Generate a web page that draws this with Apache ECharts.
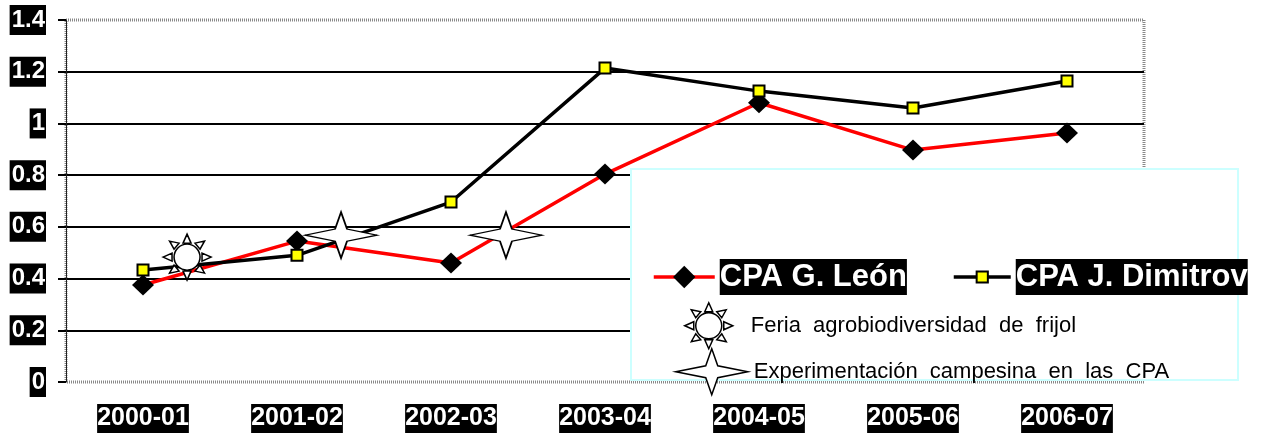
<!DOCTYPE html>
<html>
<head>
<meta charset="utf-8">
<style>html,body{margin:0;padding:0;background:#fff}#main{width:1271px;height:435px}</style>
<script src="https://cdn.jsdelivr.net/npm/echarts@6/dist/echarts.min.js"></script>
</head>
<body>
<div id="main"></div>
<script>
var categories = ['2000-01', '2001-02', '2002-03', '2003-04', '2004-05', '2005-06', '2006-07']
var leon = [0.375, 0.545, 0.46, 0.804, 1.08, 0.897, 0.963]
var dimitrov = [0.433, 0.49, 0.696, 1.214, 1.125, 1.06, 1.164]
// these two sit between the categories, so they go on a hidden 0-7 axis
var feria = [[0.786, 0.483]]
var experimentacion = [[1.786, 0.568], [2.857, 0.568]]

var nameLeon = 'CPA G. León'
var nameDimitrov = 'CPA J. Dimitrov'
var nameFeria = 'Feria agrobiodiversidad de frijol'
var nameExp = 'Experimentación campesina en las CPA'

var sunPath = 'path://M37 23A13 13 0 1 1 11 23A13 13 0 1 1 37 23Z' +
  'M24 0L28 9L20 9Z M24 46L20 37L28 37Z M0 23L9 19L9 27Z M48 23L39 27L39 19Z' +
  'M41.5 7L37 15L32 9Z M6.5 7L16 9L11 15Z M41.5 39L32 37L37 31Z M6.5 39L11 31L16 37Z'
var starPath = 'path://M36 0L42 17L72 23L42 29L36 46L30 29L0 23L30 17Z'

var font = '"Liberation Sans", Arial, sans-serif'
var outline = { color: '#fff', borderColor: '#000', borderWidth: 1.5, opacity: 1 }

function lineLegend(name, left, w, height) {
  return {
    data: [name], left: left, top: 259, padding: 0, itemWidth: w, itemHeight: height, selectedMode: false, z: 6,
    lineStyle: { width: 3.5 },
    textStyle: { color: '#fff', backgroundColor: '#000', fontFamily: font, fontWeight: 'bold', fontSize: 31, lineHeight: 36, padding: 0 }
  }
}
function noteLegend(name, icon, left, top, w, pad) {
  return {
    data: [{ name: name, icon: icon, itemStyle: outline }], left: left, top: top, padding: 0, itemWidth: w, itemHeight: 46, selectedMode: false, z: 6,
    // the words are set wide apart in the picture
    formatter: function (n) { return n.split(' ').join('  ') },
    textStyle: { color: '#000', fontFamily: font, fontSize: 22, padding: [0, 0, 0, pad] }
  }
}

var myChart = echarts.init(document.getElementById('main'))
myChart.setOption({
  animation: false,
  grid: { left: 66, right: 127, top: 20, bottom: 53, show: true, borderColor: '#888', borderWidth: 3, borderType: [1, 1] },
  legend: [
    lineLegend(nameLeon, 652, 61, 28),
    lineLegend(nameDimitrov, 952, 57, 14),
    noteLegend(nameFeria, sunPath, 684, 302, 48, 13),
    noteLegend(nameExp, starPath, 675, 348, 72, 1)
  ],
  graphic: [{
    type: 'rect', z: 5,
    shape: { x: 631, y: 169, width: 607, height: 211 },
    style: { fill: '#fff', stroke: '#ccffff', lineWidth: 2 }
  }],
  xAxis: [{
    type: 'category', data: categories,
    axisLine: { show: false }, axisTick: { show: false },
    axisLabel: { color: '#fff', backgroundColor: '#000', fontFamily: font, fontWeight: 'bold', fontSize: 25, lineHeight: 29, margin: 22, interval: 0 }
  }, {
    type: 'value', min: 0, max: 7, show: false
  }],
  yAxis: {
    type: 'value', min: 0, max: 1.4, interval: 0.2,
    axisLine: { show: true, lineStyle: { color: '#222', width: 1 } },
    axisTick: { show: true, length: 8, lineStyle: { color: '#000', width: 2 } },
    axisLabel: { color: '#fff', backgroundColor: '#000', fontFamily: font, fontWeight: 'bold', fontSize: 24, lineHeight: 30, margin: 20, padding: [0, 1, 0, 2] },
    splitLine: { show: true, showMinLine: false, showMaxLine: false, lineStyle: { color: '#000', width: 2 } }
  },
  series: [
    {
      name: nameLeon, type: 'line', data: leon, symbol: 'diamond', symbolSize: [22, 21], z: 2,
      lineStyle: { color: '#ff0000', width: 3.5 }, itemStyle: { color: '#000' }
    },
    {
      name: nameDimitrov, type: 'line', data: dimitrov, symbol: 'rect', symbolSize: 11, z: 3,
      lineStyle: { color: '#000', width: 3.5 }, itemStyle: { color: '#ffff00', borderColor: '#000', borderWidth: 2 }
    },
    {
      name: nameFeria, type: 'scatter', xAxisIndex: 1, data: feria, symbol: sunPath, symbolSize: [48, 46], z: 4, itemStyle: outline
    },
    {
      name: nameExp, type: 'scatter', xAxisIndex: 1, data: experimentacion, symbol: starPath, symbolSize: [72, 46], z: 4, itemStyle: outline
    }
  ]
})
</script>
</body>
</html>
